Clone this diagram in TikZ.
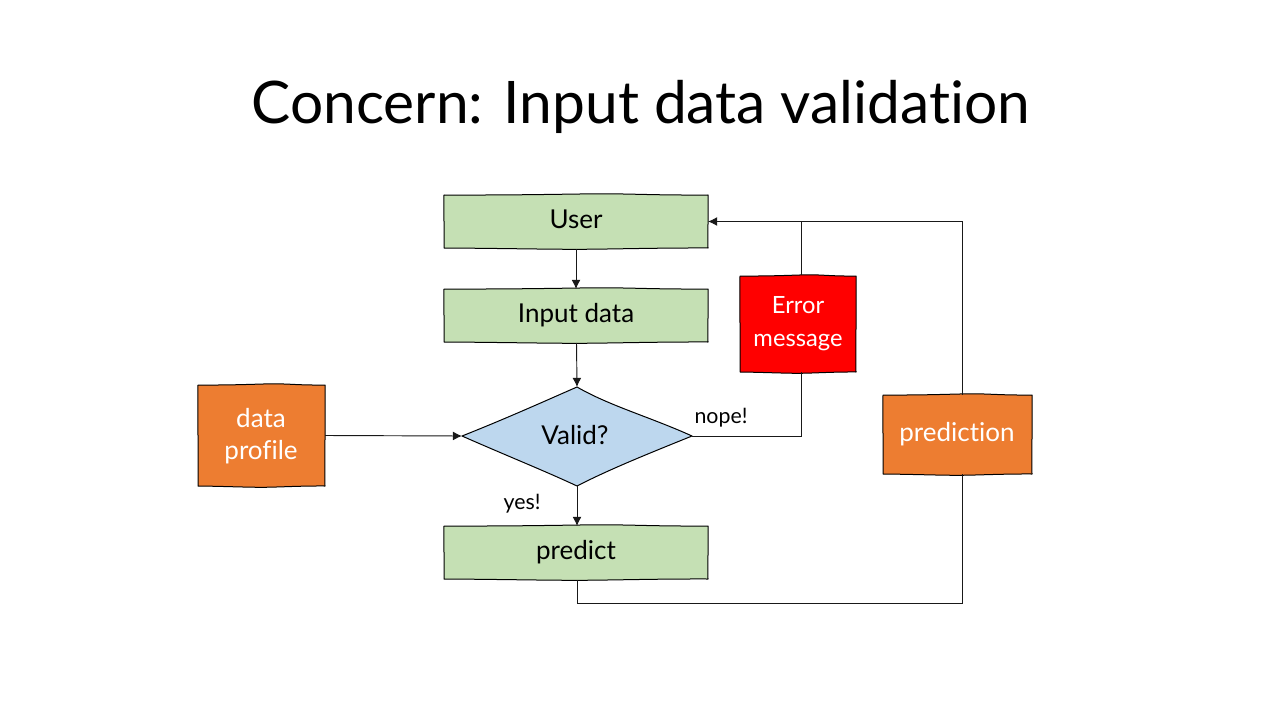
\documentclass[tikz,border=0pt]{standalone}
\usepackage{fontspec}
\setmainfont{Lato}[Ligatures=NoCommon]
\usetikzlibrary{arrows.meta}
\definecolor{boxgreen}{HTML}{C5E0B4}
\definecolor{boxblue}{HTML}{BDD7EE}
\definecolor{boxorange}{HTML}{ED7D31}
\definecolor{boxred}{HTML}{FF0000}
\tikzset{
  x=0.75pt,y=-0.75pt,
  edge/.style={draw=black!90,line width=0.7pt,line join=miter},
  arrow/.style={edge,-{Latex[length=6.8pt,width=6.6pt]}},
  outline/.style={draw=black,line width=0.75pt,line join=round},
  lab/.style={inner sep=0pt,outer sep=0pt,align=center,font=\fontsize{19.5}{24.5}\selectfont},
  dark/.style={lab,text=black},
  light/.style={lab,text=white},
  small/.style={inner sep=0pt,outer sep=0pt,font=\fontsize{16}{18}\selectfont},
}
% x1 y1 x2 y2 fill: hand-drawn rectangle outline
\newcommand{\handbox}[5]{%
  \pgfmathsetmacro{\boxw}{#3-#1}\pgfmathsetmacro{\boxh}{#4-#2}%
  \draw[outline,fill=#5]
    (#1,#2)
    .. controls ({#1+.30*\boxw},{#2+.3}) and ({#1+.50*\boxw},{#2-1.2}) .. ({#1+.60*\boxw},{#2-1.2})
    .. controls ({#1+.72*\boxw},{#2-1.2}) and ({#1+.80*\boxw},{#2+.3}) .. (#3,#2)
    .. controls ({#3+.5},{#2+.4*\boxh}) and ({#3-.5},{#2+.7*\boxh}) .. (#3,#4)
    .. controls ({#1+.80*\boxw},{#4-.2}) and ({#1+.62*\boxw},{#4+1.3}) .. ({#1+.50*\boxw},{#4+1.3})
    .. controls ({#1+.38*\boxw},{#4+1.3}) and ({#1+.20*\boxw},{#4+.3}) .. (#1,#4)
    .. controls ({#1+.6},{#2+.7*\boxh}) and ({#1-.6},{#2+.3*\boxh}) .. (#1,#2) -- cycle;
}
\begin{document}
\begin{tikzpicture}
\useasboundingbox (0,0) rectangle (1280,720);
\fill[white] (0,0) rectangle (1280,720);

\node[inner sep=0pt,anchor=base,font=\fontsize{44}{52}\selectfont] (title) at (641,124) {Concern: Input data validation};

% boxes
\handbox{444}{195}{708}{248}{boxgreen}
\node[dark] (user) at (576,219.5) {User};
\coordinate (userE) at (708,221.5);
\coordinate (userS) at (576,249);

\handbox{444}{289}{708}{342}{boxgreen}
\node[dark] (input) at (576,315.5) {Input data};
\coordinate (inputN) at (576,289);
\coordinate (inputS) at (576.5,343);

\draw[outline,fill=boxblue]
  (577,387) .. controls (610,406) and (650,417) .. (692,436)
  .. controls (650,453) and (610,469) .. (577,486)
  .. controls (545,471) and (505,455) .. (462,436)
  .. controls (505,419) and (545,401) .. (577,387) -- cycle;
\node[dark] (valid) at (575,435) {Valid?};
\coordinate (validN) at (577,387);
\coordinate (validS) at (577,486);
\coordinate (validW) at (462,436);
\coordinate (validE) at (692,436);

\handbox{444}{526}{708}{579}{boxgreen}
\node[dark] (predict) at (576,552.5) {predict};
\coordinate (predictN) at (577,526);
\coordinate (predictS) at (577,580);

\handbox{198}{385}{325}{486}{boxorange}
\node[light] (profile) at (261,436) {data\\profile};
\coordinate (profileE) at (325,435.5);

\handbox{740}{276}{856}{372}{boxred}
\node[light,font=\fontsize{17.8}{24.8}\selectfont] (error) at (798,324) {Error\\message};
\coordinate (errorN) at (801,275);
\coordinate (errorS) at (801,372);

\handbox{883}{395}{1032}{474}{boxorange}
\node[light] (prediction) at (957,434.5) {prediction};
\coordinate (predictionN) at (962,395);
\coordinate (predictionS) at (962,474);

% corners
\coordinate (jn) at (801,221.5);
\coordinate (c1) at (962,221.5);
\coordinate (c2) at (801,436);
\coordinate (c3) at (577,603);
\coordinate (c4) at (962,603);

% connectors
\draw[arrow] (userS) -- (inputN);
\draw[arrow] (inputS) -- (validN);
\draw[arrow] (validS) -- (predictN);
\draw[arrow] (profileE) -- (validW);
\draw[edge] (validE) -- (c2) -- (errorS);
\draw[edge] (errorN) -- (jn);
\draw[arrow] (predictionN) -- (c1) -- (userE);
\draw[edge] (predictS) -- (c3) -- (c4) -- (predictionS);

\node[small] (nope) at (721,418) {nope!};
\node[small] (yes) at (522,504) {yes!};
\end{tikzpicture}
\end{document}
